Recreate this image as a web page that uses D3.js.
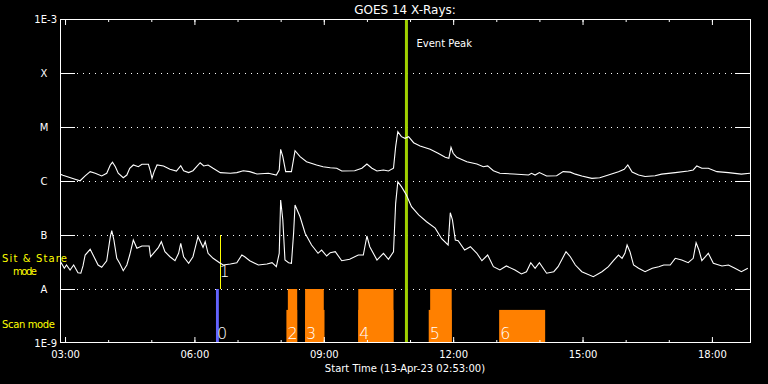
<!DOCTYPE html>
<html>
<head>
<meta charset="utf-8">
<script src="https://cdn.jsdelivr.net/npm/d3@7"></script>
<style>
  html, body { margin: 0; background: #000; }
  svg { display: block; font-family: "DejaVu Sans", sans-serif; }
</style>
</head>
<body>
<svg id="chart" width="768" height="384"></svg>
<script>
// GOES 14 long channel (1-8 A)
const longTime = [
  "02:53","02:57","03:14","03:21","03:28","03:35","03:42","03:51","03:58","04:03",
  "04:06","04:10","04:14","04:21","04:26","04:30","04:35","04:42","04:47","04:56",
  "04:59","05:01","05:04","05:08","05:17","05:26","05:35","05:41","05:45","05:52",
  "05:58","06:08","06:13","06:19","06:26","06:36","06:50","06:59","07:08","07:17",
  "07:27","07:43","07:54","07:58","08:00","08:03","08:07","08:15","08:20","08:27",
  "08:36","08:50","08:59","09:09","09:18","09:25","09:43","09:53","10:00","10:07",
  "10:14","10:23","10:30","10:37","10:40","10:43","10:48","10:53","10:58","11:05",
  "11:14","11:28","11:39","11:49","11:54","11:57","12:00","12:05","12:19","12:33",
  "12:42","12:48","12:56","13:05","13:24","13:45","13:49","13:54","14:00","14:10",
  "14:24","14:33","14:43","14:50","14:59","15:13","15:24","15:36","15:50","15:58",
  "16:03","16:09","16:18","16:27","16:41","16:50","17:09","17:27","17:34","17:39",
  "17:46","17:55","18:07","18:23","18:41","18:53"
];
const longFlux = [
  1.34e-6,1.28e-6,1.08e-6,1.01e-6,1.24e-6,1.49e-6,1.39e-6,1.24e-6,1.39e-6,1.98e-6,
  2.22e-6,1.84e-6,1.39e-6,1.15e-6,1.29e-6,1.72e-6,1.98e-6,1.84e-6,2.04e-6,2.04e-6,
  1.49e-6,1.12e-6,1.49e-6,1.98e-6,1.90e-6,1.65e-6,1.53e-6,1.92e-6,1.55e-6,1.43e-6,
  1.55e-6,2.18e-6,1.90e-6,1.98e-6,1.72e-6,1.43e-6,1.39e-6,1.43e-6,1.55e-6,1.49e-6,
  1.35e-6,1.39e-6,1.29e-6,1.60e-6,3.86e-6,2.82e-6,1.49e-6,1.49e-6,3.64e-6,2.82e-6,
  2.28e-6,1.98e-6,1.84e-6,1.76e-6,1.72e-6,1.53e-6,1.55e-6,1.72e-6,2.06e-6,1.72e-6,
  1.53e-6,1.60e-6,1.53e-6,1.72e-6,4.32e-6,8.19e-6,6.62e-6,6.17e-6,6.62e-6,5.12e-6,
  4.45e-6,3.86e-6,3.26e-6,2.75e-6,2.64e-6,4.21e-6,3.26e-6,2.75e-6,2.28e-6,2.06e-6,
  1.84e-6,1.90e-6,1.55e-6,1.39e-6,1.35e-6,1.29e-6,1.39e-6,1.29e-6,1.43e-6,1.24e-6,
  1.25e-6,1.49e-6,1.46e-6,1.34e-6,1.24e-6,1.12e-6,1.15e-6,1.29e-6,1.49e-6,1.65e-6,
  1.98e-6,1.46e-6,1.29e-6,1.21e-6,1.25e-6,1.34e-6,1.43e-6,1.53e-6,1.60e-6,1.90e-6,
  1.72e-6,1.72e-6,1.49e-6,1.43e-6,1.34e-6,1.39e-6
];

// GOES 14 short channel (0.5-4 A)
const shortTime = [
  "02:53","02:59","03:02","03:07","03:12","03:18","03:22","03:25","03:28","03:35",
  "03:39","03:46","03:51","03:58","04:03","04:05","04:08","04:12","04:16","04:21",
  "04:26","04:30","04:35","04:40","04:47","04:57","04:59","05:03","05:10","05:14",
  "05:19","05:26","05:33","05:38","05:41","05:45","05:52","05:58","06:05","06:12",
  "06:15","06:19","06:26","06:35","06:40","06:50","06:59","07:06","07:10","07:17",
  "07:29","07:41","07:48","07:54","07:58","08:00","08:03","08:06","08:11","08:15",
  "08:18","08:20","08:27","08:34","08:43","08:52","08:57","09:04","09:09","09:16",
  "09:25","09:36","09:48","09:55","10:00","10:04","10:14","10:23","10:30","10:37",
  "10:40","10:43","10:48","10:55","11:02","11:12","11:23","11:35","11:44","11:53",
  "11:56","11:59","12:03","12:07","12:16","12:24","12:33","12:40","12:48","12:56",
  "13:05","13:14","13:26","13:35","13:42","13:48","13:54","14:00","14:10","14:20",
  "14:26","14:37","14:43","14:50","14:59","15:15","15:27","15:36","15:43","15:50",
  "15:55","15:59","16:02","16:06","16:11","16:18","16:27","16:37","16:46","16:53",
  "17:02","17:09","17:18","17:27","17:34","17:38","17:42","17:46","17:51","17:55",
  "18:02","18:14","18:23","18:32","18:41","18:50"
];
const shortFlux = [
  3.34e-8,2.42e-8,2.78e-8,2.25e-8,2.78e-8,2.00e-8,1.96e-8,2.67e-8,4.26e-8,5.43e-8,
  4.26e-8,2.78e-8,2.52e-8,3.34e-8,9.30e-8,1.20e-7,8.08e-8,3.70e-8,2.99e-8,2.18e-8,
  2.78e-8,4.26e-8,8.08e-8,5.67e-8,6.26e-8,6.26e-8,3.96e-8,4.58e-8,5.91e-8,7.52e-8,
  4.90e-8,3.96e-8,3.34e-8,4.58e-8,7.02e-8,3.96e-8,2.99e-8,3.96e-8,9.30e-8,5.91e-8,
  7.52e-8,4.58e-8,3.70e-8,3.07e-8,2.78e-8,2.90e-8,3.07e-8,4.26e-8,3.96e-8,3.34e-8,
  2.78e-8,2.90e-8,3.07e-8,2.59e-8,4.58e-8,4.45e-7,1.90e-7,3.44e-8,3.07e-8,2.99e-8,
  1.08e-7,3.59e-7,2.18e-7,1.08e-7,6.53e-8,4.58e-8,5.27e-8,4.08e-8,4.70e-8,4.90e-8,
  3.34e-8,3.55e-8,4.26e-8,4.26e-8,9.58e-8,6.07e-8,3.44e-8,4.58e-8,3.55e-8,4.90e-8,
  3.86e-7,9.70e-7,7.86e-7,5.50e-7,3.34e-7,2.35e-7,1.76e-7,1.34e-7,8.55e-8,6.53e-8,
  2.59e-7,1.90e-7,8.08e-8,7.86e-8,5.27e-8,6.07e-8,4.58e-8,3.34e-8,4.26e-8,2.59e-8,
  2.25e-8,2.67e-8,2.25e-8,1.90e-8,2.09e-8,3.07e-8,2.42e-8,3.07e-8,1.96e-8,2.09e-8,
  2.59e-8,4.90e-8,3.96e-8,2.78e-8,2.09e-8,1.69e-8,2.09e-8,2.59e-8,3.34e-8,4.26e-8,
  3.70e-8,4.58e-8,6.53e-8,4.90e-8,2.78e-8,2.42e-8,2.09e-8,2.42e-8,2.59e-8,2.78e-8,
  2.78e-8,3.70e-8,3.44e-8,3.07e-8,3.70e-8,7.20e-8,5.27e-8,3.34e-8,3.96e-8,4.58e-8,
  2.99e-8,2.67e-8,2.78e-8,2.42e-8,2.09e-8,2.42e-8
];

// y axis: decades and their labels
const decades = [1e-9, 1e-8, 1e-7, 1e-6, 1e-5, 1e-4, 1e-3];
const decadeLabels = ["1E-9", "A", "B", "C", "M", "X", "1E-3"];

// observations
const scanTallStart = ["08:10", "08:34", "09:48", "11:28"];
const scanTallEnd   = ["08:23", "09:00", "10:37", "11:58"];
const scanShortStart = ["08:08", "08:34", "09:48", "11:26", "13:04"];
const scanShortEnd   = ["08:23", "09:01", "10:37", "11:58", "14:08"];
const scanLabels = ["2", "3", "4", "5", "6"];
const scanTallLevel = 1e-8;
const scanShortLevel = 4.1e-9;
const blueScan = { start: "06:30", end: "06:34", label: "0" };
const sitStare = { time: "06:35", label: "1" };
const eventPeak = "10:55";

const parseTime = d3.utcParse("%Y-%m-%d %H:%M");
const t = s => parseTime("2023-04-13 " + s);

const svg = d3.select("#chart");
svg.append("rect").attr("width", 768).attr("height", 384).attr("fill", "#000");

const x = d3.scaleUtc().domain([t("02:53"), t("18:53")]).range([60, 750]);
const y = d3.scaleLog().domain([1e-9, 1e-3]).range([343, 19]);

svg.append("defs").append("clipPath").attr("id", "plot")
  .append("rect").attr("x", 60).attr("y", 19).attr("width", 690).attr("height", 324);

// gridlines per decade
const grid = svg.append("g").attr("stroke", "#fff").attr("stroke-width", 1);
decades.slice(1, -1).forEach(v => {
  const yy = Math.round(y(v)) + 0.5;
  grid.append("line").attr("x1", 60).attr("x2", 75).attr("y1", yy).attr("y2", yy);
  grid.append("line").attr("x1", 735).attr("x2", 750).attr("y1", yy).attr("y2", yy);
  grid.append("line").attr("x1", 77).attr("x2", 735).attr("y1", yy).attr("y2", yy)
    .attr("stroke-dasharray", "1,5");
});

// y labels
svg.append("g").selectAll("text")
  .data(decades)
  .join("text")
  .attr("x", (d, i) => (i === 0 || i === decades.length - 1) ? 57 : 44)
  .attr("y", d => y(d) + 4)
  .attr("text-anchor", (d, i) => (i === 0 || i === decades.length - 1) ? "end" : "middle")
  .attr("fill", "#fff")
  .attr("font-size", 10)
  .text((d, i) => decadeLabels[i]);

// scan mode bars
const bars = svg.append("g").attr("clip-path", "url(#plot)");
bars.selectAll("rect.short")
  .data(scanShortStart)
  .join("rect")
  .attr("class", "short")
  .attr("x", (d, i) => x(t(d)))
  .attr("width", (d, i) => x(t(scanShortEnd[i])) - x(t(d)))
  .attr("y", y(scanShortLevel))
  .attr("height", y(1e-9) - y(scanShortLevel))
  .attr("fill", "#ff8000");
bars.selectAll("rect.tall")
  .data(scanTallStart)
  .join("rect")
  .attr("class", "tall")
  .attr("x", (d, i) => x(t(d)))
  .attr("width", (d, i) => x(t(scanTallEnd[i])) - x(t(d)))
  .attr("y", y(scanTallLevel))
  .attr("height", y(1e-9) - y(scanTallLevel))
  .attr("fill", "#ff8000");
bars.append("rect")
  .attr("x", x(t(blueScan.start)))
  .attr("width", x(t(blueScan.end)) - x(t(blueScan.start)))
  .attr("y", y(scanTallLevel))
  .attr("height", y(1e-9) - y(scanTallLevel))
  .attr("fill", "#6464ff");

// sit & stare marker
svg.append("line")
  .attr("x1", Math.round(x(t(sitStare.time))) + 0.5)
  .attr("x2", Math.round(x(t(sitStare.time))) + 0.5)
  .attr("y1", y(1e-7)).attr("y2", y(1e-8))
  .attr("stroke", "#ffff00").attr("stroke-width", 1);

// observation numbers
const numStyle = s => s.attr("fill", "#fff").attr("font-size", 16).attr("font-weight", 300);
svg.append("g").selectAll("text")
  .data(scanShortStart)
  .join("text")
  .attr("x", d => x(t(d)) + 1)
  .attr("y", 339)
  .text((d, i) => scanLabels[i])
  .call(numStyle);
svg.append("text").attr("x", x(t(blueScan.start)) + 1).attr("y", 339)
  .text(blueScan.label).call(numStyle);
svg.append("text").attr("x", x(t(sitStare.time))).attr("y", 277)
  .text(sitStare.label).call(numStyle);

// event peak
svg.append("line")
  .attr("x1", x(t(eventPeak))).attr("x2", x(t(eventPeak)))
  .attr("y1", 19).attr("y2", 343)
  .attr("stroke", "#a0d000").attr("stroke-width", 3);
svg.append("text")
  .attr("x", x(t(eventPeak)) + 10).attr("y", 47)
  .attr("fill", "#fff").attr("font-size", 10)
  .text("Event Peak");

// flux curves
const line = d3.line()
  .x(d => x(t(d[0])))
  .y(d => y(d[1]));
const curves = svg.append("g").attr("clip-path", "url(#plot)")
  .attr("fill", "none").attr("stroke", "#fff").attr("stroke-width", 1.1);
curves.append("path").attr("d", line(d3.zip(longTime, longFlux)));
curves.append("path").attr("d", line(d3.zip(shortTime, shortFlux)));

// frame
svg.append("rect")
  .attr("x", 60.5).attr("y", 19.5).attr("width", 690).attr("height", 323)
  .attr("fill", "none").attr("stroke", "#fff");

// time axes: major every 3h with labels, minor every hour
const fmt = d3.utcFormat("%H:%M");
const styleAxis = g => {
  g.select(".domain").remove();
  g.selectAll("line").attr("stroke", "#fff");
  g.selectAll("text").attr("fill", "#fff").attr("font-size", 10).attr("font-family", "DejaVu Sans, sans-serif");
};
svg.append("g").attr("transform", "translate(0,343)")
  .call(d3.axisBottom(x).ticks(d3.utcHour.every(1)).tickSize(-3).tickFormat(""))
  .call(styleAxis);
svg.append("g").attr("transform", "translate(0,343)")
  .call(d3.axisBottom(x).ticks(d3.utcHour.every(3)).tickSize(-6).tickPadding(8).tickFormat(fmt))
  .call(styleAxis);
svg.append("g").attr("transform", "translate(0,19)")
  .call(d3.axisTop(x).ticks(d3.utcHour.every(1)).tickSize(-3).tickFormat(""))
  .call(styleAxis);
svg.append("g").attr("transform", "translate(0,19)")
  .call(d3.axisTop(x).ticks(d3.utcHour.every(3)).tickSize(-6).tickFormat(""))
  .call(styleAxis);

// titles
svg.append("text")
  .attr("x", 405).attr("y", 14)
  .attr("text-anchor", "middle").attr("fill", "#fff").attr("font-size", 12)
  .text("GOES 14 X-Rays:");
svg.append("text")
  .attr("x", 405).attr("y", 372)
  .attr("text-anchor", "middle").attr("fill", "#fff").attr("font-size", 10)
  .text("Start Time (13-Apr-23 02:53:00)");

// mode labels
const modeStyle = s => s.attr("fill", "#ffff00").attr("font-size", 10);
svg.append("text").attr("x", 2).attr("y", 262).attr("textLength", 65)
  .text("Sit & Stare").call(modeStyle);
svg.append("text").attr("x", 13).attr("y", 275).attr("textLength", 24)
  .text("mode").call(modeStyle);
svg.append("text").attr("x", 2).attr("y", 328).attr("textLength", 53)
  .text("Scan mode").call(modeStyle);
</script>
</body>
</html>
